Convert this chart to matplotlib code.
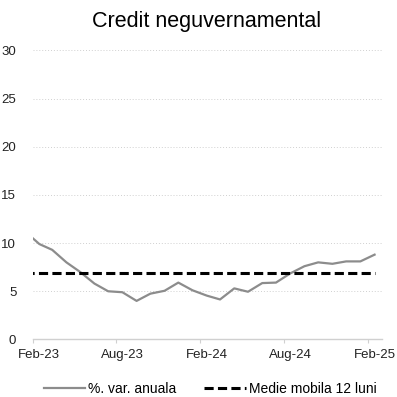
import pandas as pd
import numpy as np
import matplotlib
matplotlib.use("Agg")
import matplotlib.pyplot as plt

plt.rcParams["font.family"] = ["Liberation Sans", "DejaVu Sans"]

# monthly observations (plotted mid-month, as in the source chart)
months = ["Jan-23", "Feb-23", "Mar-23", "Apr-23", "May-23", "Jun-23", "Jul-23",
          "Aug-23", "Sep-23", "Oct-23", "Nov-23", "Dec-23", "Jan-24", "Feb-24",
          "Mar-24", "Apr-24", "May-24", "Jun-24", "Jul-24", "Aug-24", "Sep-24",
          "Oct-24", "Nov-24", "Dec-24", "Jan-25", "Feb-25"]
var_anuala = [11.2, 9.9, 9.3, 8.0, 7.0, 5.8, 5.0, 4.9, 4.0, 4.75, 5.05, 5.9, 5.1,
              4.55, 4.15, 5.3, 4.95, 5.85, 5.9, 6.85, 7.6, 8.0, 7.85, 8.1, 8.1, 8.8]
medie_mobila = [6.85] * len(months)

tick_labels = ["Feb-23", "Aug-23", "Feb-24", "Aug-24", "Feb-25"]
y_ticks = [0, 5, 10, 15, 20, 25, 30]

mid = pd.Timedelta(days=14)
dates = pd.to_datetime(months, format="%b-%y") + mid
tick_dates = pd.to_datetime(tick_labels, format="%b-%y")

fig = plt.figure(figsize=(3.97, 3.97), dpi=100)
ax = fig.add_axes([0.083, 0.145, 0.879, 0.728])

ax.plot(dates, var_anuala, color="#8c8c8c", lw=1.6, label="%. var. anuala")
ax.plot(dates, medie_mobila, color="black", lw=2.2, linestyle=(0, (3, 1.4)),
        label="Medie mobila 12 luni")

ax.set_xlim(pd.Timestamp("2023-02-01"), pd.Timestamp("2025-03-03"))
ax.set_ylim(0, 30)
ax.set_yticks(y_ticks)

# tick marks at month start, labels centred on the month (Excel date axis)
ax.set_xticks(tick_dates)
ax.set_xticklabels([""] * len(tick_labels))
ax.set_xticks(tick_dates + mid, minor=True)
ax.set_xticklabels(tick_labels, minor=True)

ax.grid(axis="y", color="#d0d0d0", linestyle=(0, (1, 2)), lw=0.7)
ax.set_axisbelow(True)
for s in ["top", "right", "left"]:
    ax.spines[s].set_visible(False)
ax.spines["bottom"].set_color("#d0d0d0")
ax.spines["bottom"].set_linewidth(1.0)

ax.tick_params(axis="y", length=0, pad=12, labelsize=9.5, labelcolor="#222222")
ax.tick_params(axis="x", which="major", length=3, color="#d0d0d0")
ax.tick_params(axis="x", which="minor", length=0, pad=7, labelsize=9.5,
               labelcolor="#222222")

fig.text(0.52, 0.945, "Credit neguvernamental", ha="center", va="center",
         fontsize=15.5, color="black")

fig.legend(loc="center", bbox_to_anchor=(0.529, 0.02), ncol=2, frameon=False,
           fontsize=10, handlelength=3.0, handletextpad=0.2, columnspacing=2.0)

fig.savefig("out.png", dpi=100)
